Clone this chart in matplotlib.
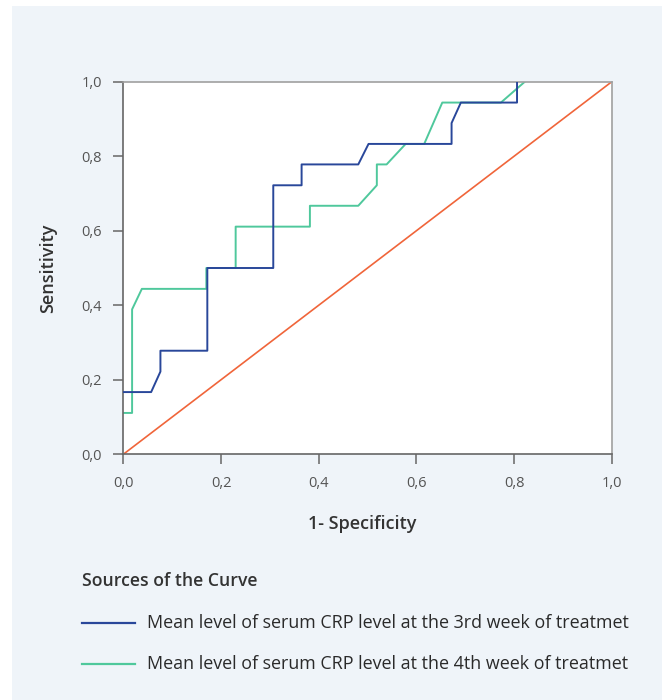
import numpy as np
import matplotlib
matplotlib.use('Agg')
import matplotlib.pyplot as plt
from matplotlib.patches import Rectangle
from matplotlib.lines import Line2D

plt.rcParams['font.family'] = ['Open Sans', 'DejaVu Sans']

# ROC curve points (1-specificity, sensitivity)
week3_fpr = [0, 0.057, 0.076, 0.076, 0.172, 0.172, 0.307, 0.307, 0.365, 0.365,
             0.481, 0.502, 0.672, 0.672, 0.691, 0.806, 0.806]
week3_tpr = [0.167, 0.167, 0.222, 0.278, 0.278, 0.5, 0.5, 0.722, 0.722, 0.778,
             0.778, 0.833, 0.833, 0.889, 0.944, 0.944, 1.0]

week4_fpr = [0, 0.018, 0.018, 0.038, 0.170, 0.170, 0.230, 0.230, 0.382, 0.382,
             0.481, 0.519, 0.519, 0.539, 0.578, 0.616, 0.653, 0.773, 0.822]
week4_tpr = [0.111, 0.111, 0.389, 0.444, 0.444, 0.5, 0.5, 0.611, 0.611, 0.667,
             0.667, 0.722, 0.778, 0.778, 0.833, 0.833, 0.944, 0.944, 1.0]

ref_line = [0, 1]

ticks = [0, 0.2, 0.4, 0.6, 0.8, 1.0]
tick_labels = ['0,0', '0,2', '0,4', '0,6', '0,8', '1,0']

legend_title = 'Sources of the Curve'
labels = ['Mean level of serum CRP level at the 3rd week of treatmet',
          'Mean level of serum CRP level at the 4th week of treatmet']
colors = ['#29479A', '#4FC89C']
ref_color = '#F0653A'

W, H = 665, 700
fig = plt.figure(figsize=(W / 100, H / 100), dpi=100, facecolor='white')

#light panel behind everything
fig.add_artist(Rectangle((12 / W, 0), 650 / W, 694 / H, transform=fig.transFigure,
                         facecolor='#EFF4F9', edgecolor='none', zorder=0))

ax = fig.add_axes([123.3 / W, 1 - 454.3 / H, 488.5 / W, 372.6 / H])
ax.set_facecolor('white')
ax.set_zorder(1)

ax.plot(week3_fpr, week3_tpr, color=colors[0], lw=1.4, zorder=3)
ax.plot(week4_fpr, week4_tpr, color=colors[1], lw=1.4, zorder=2)
ax.plot(ref_line, ref_line, color=ref_color, lw=1.2, zorder=2)

ax.set_xlim(0, 1)
ax.set_ylim(0, 1)
ax.set_xticks(ticks)
ax.set_xticklabels(tick_labels)
ax.set_yticks(ticks)
ax.set_yticklabels(tick_labels)
ax.tick_params(direction='out', length=7.5, width=1.1, color='#666666',
               labelsize=10.5, labelcolor='#555555', pad=8)

for side in ['left', 'bottom']:
    ax.spines[side].set_color('#666666')
    ax.spines[side].set_linewidth(1.2)
for side in ['top', 'right']:
    ax.spines[side].set_color('#A0A0A0')
    ax.spines[side].set_linewidth(1.2)

ax.set_xlabel('1- Specificity', fontsize=13, fontweight='semibold', color='#333333')
ax.set_ylabel('Sensitivity', fontsize=13, fontweight='semibold', color='#333333')
ax.xaxis.set_label_coords(0.49, -0.187)
ax.xaxis.label.set_va('center')
ax.yaxis.set_label_coords(-0.154, 0.5)
ax.yaxis.label.set_va('center')

#legend drawn by hand under the plot
fig.text(82 / W, 1 - 581 / H, legend_title, fontsize=12.7, fontweight='semibold',
         color='#333333', va='center', ha='left')
for i, (lab, c) in enumerate(zip(labels, colors)):
    yy = 1 - (623 + 41 * i) / H
    fig.add_artist(Line2D([82 / W, 135 / W], [yy, yy], transform=fig.transFigure,
                          color=c, lw=1.6))
    fig.text(147 / W, yy, lab, fontsize=12.9, color='#2A2A2A', va='center', ha='left')

fig.savefig('out.png', dpi=100, facecolor='white')
